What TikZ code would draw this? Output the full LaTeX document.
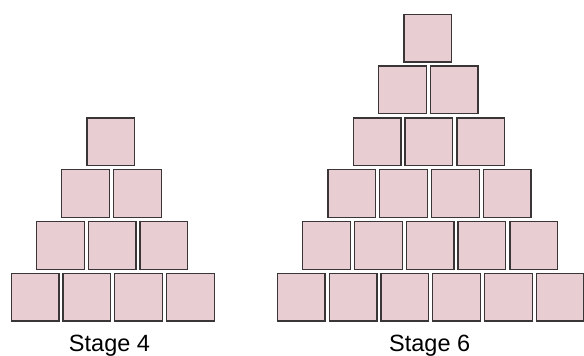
\documentclass[tikz,border=0pt]{standalone}
\usepackage{fontspec}
\setmainfont{Liberation Sans}
\definecolor{sqfill}{HTML}{E8CDD2}
\definecolor{sqline}{HTML}{3A3537}
\begin{document}
\begin{tikzpicture}[x=1pt,y=1pt,
 sq/.style={draw=sqline, fill=sqfill, line width=1.3pt, minimum size=47.7pt, inner sep=0pt, outer sep=0pt},
 lbl/.style={font=\fontsize{23.5}{28}\selectfont, anchor=base, inner sep=0pt}]
\useasboundingbox (0,0) rectangle (584,356);
% Stage 4
\foreach \k in {0,...,3}{
  \pgfmathtruncatemacro{\n}{3-\k}
  \foreach \i in {0,...,\n}{
    \node[sq] (L-\k-\i) at ({10.5+\k*25.3+\i*51.8+24.5},{356-297.2+\k*51.8}) {};
  }
}
% Stage 6
\foreach \k in {0,...,5}{
  \pgfmathtruncatemacro{\n}{5-\k}
  \foreach \i in {0,...,\n}{
    \node[sq] (R-\k-\i) at ({276.7+\k*25.3+\i*51.8+24.5},{356-297.2+\k*51.8}) {};
  }
}
\node[lbl] (s4) at (109.5,4) {Stage 4};
\node[lbl] (s6) at (429.7,4) {Stage 6};
\end{tikzpicture}
\end{document}
